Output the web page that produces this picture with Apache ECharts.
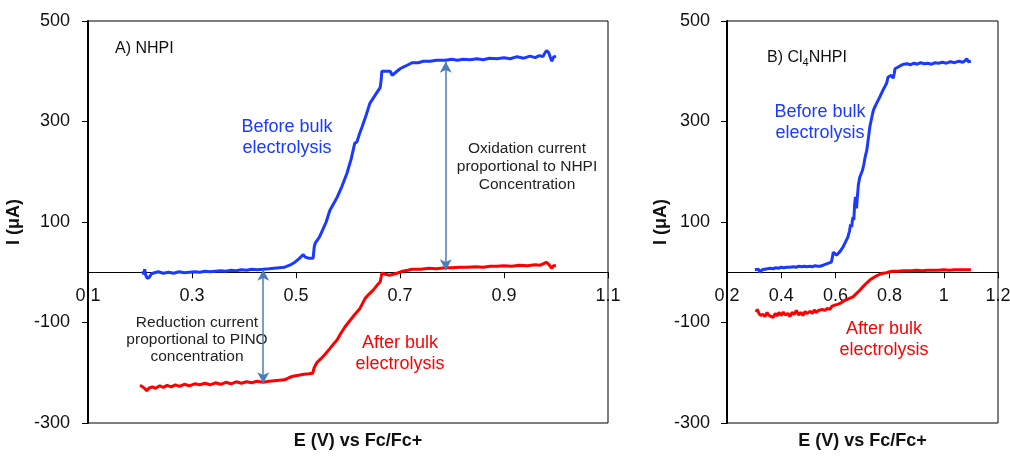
<!DOCTYPE html>
<html lang="en">
<head>
    <meta charset="UTF-8">
    <title>NHPI voltammetry</title>
    <script src="https://cdn.jsdelivr.net/npm/echarts@6/dist/echarts.min.js"></script>
    <style>
        body { margin: 0; background: #fff; }
    </style>
</head>
<body>
    <div id="main" style="width: 1010px;height:456px;"></div>
    <script type="text/javascript">

        // panel A (NHPI): [E (V), I (uA)]
        var nhpiBefore = [
            [0.205, 2], [0.207, -4], [0.209, 6], [0.211, -6], [0.214, -12], [0.218, -10], [0.222, -3],
            [0.228, -1], [0.235, 1], [0.245, -2], [0.255, 0], [0.265, -2], [0.275, 1], [0.285, -1],
            [0.295, 0], [0.305, 1], [0.315, 0], [0.325, 2], [0.335, 1], [0.345, 2], [0.355, 3],
            [0.365, 2], [0.375, 4], [0.385, 3], [0.395, 5], [0.405, 4], [0.415, 6], [0.425, 5],
            [0.437, 6], [0.448, 7], [0.458, 8], [0.468, 9], [0.478, 10], [0.488, 14], [0.498, 20],
            [0.506, 27], [0.514, 35], [0.518, 30], [0.524, 28], [0.533, 28], [0.535, 50], [0.537, 58],
            [0.545, 70], [0.552, 86], [0.558, 100], [0.565, 123], [0.572, 136], [0.579, 149],
            [0.588, 170], [0.598, 197], [0.606, 225], [0.613, 257], [0.617, 259], [0.622, 275],
            [0.627, 289], [0.635, 313], [0.642, 336], [0.652, 352], [0.662, 368], [0.664, 385],
            [0.665, 400], [0.673, 400], [0.681, 400], [0.685, 392], [0.692, 398], [0.7, 405],
            [0.71, 410], [0.723, 417], [0.735, 417], [0.745, 420], [0.758, 420], [0.77, 422],
            [0.787, 422], [0.8, 424], [0.81, 422], [0.822, 424], [0.835, 423], [0.848, 425],
            [0.86, 423], [0.872, 426], [0.886, 425], [0.9, 427], [0.912, 425], [0.925, 429],
            [0.938, 426], [0.95, 430], [0.96, 427], [0.968, 431], [0.975, 429], [0.979, 437],
            [0.982, 441], [0.986, 437], [0.989, 428], [0.992, 420], [0.995, 428], [1.0, 430]
        ];
        var nhpiAfter = [
            [0.2, -225], [0.205, -228], [0.21, -232], [0.213, -236], [0.218, -230], [0.224, -228],
            [0.23, -231], [0.238, -226], [0.245, -229], [0.252, -225], [0.26, -228], [0.268, -224],
            [0.276, -227], [0.285, -223], [0.295, -226], [0.305, -222], [0.315, -224], [0.325, -221],
            [0.335, -224], [0.345, -220], [0.355, -223], [0.365, -219], [0.375, -222], [0.385, -218],
            [0.395, -221], [0.405, -218], [0.415, -220], [0.425, -217], [0.437, -219], [0.448, -217],
            [0.458, -216], [0.468, -215], [0.478, -214], [0.486, -210], [0.494, -207], [0.505, -205],
            [0.515, -203], [0.525, -202], [0.532, -201], [0.535, -190], [0.54, -180], [0.548, -172],
            [0.556, -163], [0.565, -152], [0.572, -143], [0.579, -135], [0.586, -122], [0.594, -109],
            [0.603, -97], [0.613, -84], [0.623, -72], [0.628, -62], [0.633, -52], [0.64, -44],
            [0.648, -36], [0.655, -27], [0.662, -19], [0.664, -8], [0.665, -2], [0.672, -4],
            [0.68, -6], [0.687, -4], [0.694, -2], [0.705, 2], [0.715, 4], [0.723, 6], [0.74, 6],
            [0.755, 8], [0.77, 7], [0.787, 9], [0.8, 9], [0.815, 10], [0.83, 10], [0.845, 11],
            [0.86, 10], [0.873, 12], [0.886, 12], [0.9, 13], [0.915, 12], [0.93, 14], [0.945, 13],
            [0.96, 15], [0.97, 14], [0.976, 17], [0.981, 20], [0.985, 17], [0.989, 12], [0.992, 8],
            [0.995, 13], [1.0, 13]
        ];

        // panel B (Cl4NHPI)
        var clBefore = [
            [0.303, 5], [0.31, 3], [0.316, 6], [0.322, 0], [0.33, 5], [0.34, 6], [0.35, 7], [0.36, 8],
            [0.37, 7], [0.38, 9], [0.39, 8], [0.4, 10], [0.41, 9], [0.42, 10], [0.432, 10], [0.445, 11],
            [0.455, 10], [0.465, 12], [0.475, 11], [0.485, 12], [0.495, 11], [0.505, 12], [0.515, 11],
            [0.525, 13], [0.535, 12], [0.543, 12], [0.555, 14], [0.565, 16], [0.575, 18], [0.585, 20],
            [0.589, 30], [0.592, 40], [0.598, 38], [0.604, 34], [0.61, 34], [0.618, 42], [0.628, 50],
            [0.637, 60], [0.646, 70], [0.652, 82], [0.656, 95], [0.66, 90], [0.662, 100], [0.665, 110],
            [0.668, 104], [0.671, 135], [0.674, 150], [0.676, 140], [0.678, 127], [0.681, 150],
            [0.685, 175], [0.69, 189], [0.695, 196], [0.7, 203], [0.705, 215], [0.71, 230],
            [0.716, 243], [0.722, 268], [0.727, 289], [0.733, 305], [0.74, 322], [0.75, 334],
            [0.764, 349], [0.776, 363], [0.789, 376], [0.794, 388], [0.8, 390], [0.806, 392],
            [0.813, 386], [0.817, 395], [0.82, 405], [0.83, 408], [0.84, 411], [0.852, 414],
            [0.864, 415], [0.878, 413], [0.89, 416], [0.902, 414], [0.915, 417], [0.928, 415],
            [0.94, 416], [0.955, 414], [0.968, 417], [0.98, 416], [0.995, 418], [1.01, 416],
            [1.025, 419], [1.04, 417], [1.055, 420], [1.07, 418], [1.078, 421], [1.085, 425],
            [1.09, 419], [1.095, 422], [1.1, 420]
        ];
        var clAfter = [
            [0.307, -79], [0.312, -74], [0.318, -82], [0.325, -86], [0.333, -84], [0.34, -88],
            [0.348, -80], [0.355, -86], [0.362, -83], [0.37, -90], [0.378, -82], [0.385, -87],
            [0.392, -80], [0.4, -86], [0.408, -79], [0.415, -85], [0.424, -82], [0.432, -88],
            [0.44, -80], [0.448, -84], [0.456, -76], [0.464, -85], [0.472, -80], [0.48, -86],
            [0.488, -78], [0.494, -82], [0.5, -84], [0.508, -78], [0.515, -82], [0.522, -75],
            [0.53, -80], [0.537, -76], [0.543, -78], [0.552, -74], [0.56, -76], [0.57, -72],
            [0.58, -74], [0.586, -68], [0.592, -70], [0.6, -65], [0.608, -64], [0.617, -62],
            [0.628, -58], [0.64, -55], [0.652, -52], [0.665, -49], [0.678, -42], [0.69, -36],
            [0.703, -28], [0.716, -21], [0.728, -15], [0.74, -11], [0.752, -7], [0.764, -4],
            [0.776, -2], [0.789, -1], [0.8, 1], [0.813, 2], [0.83, 2], [0.85, 3], [0.864, 3],
            [0.88, 3], [0.9, 4], [0.92, 3], [0.94, 4], [0.96, 4], [0.98, 4], [1.0, 5], [1.02, 4],
            [1.04, 5], [1.06, 5], [1.08, 5], [1.1, 5]
        ];

        // double arrows in panel A
        var oxArrow = [[0.788, 419], [0.788, 4]];
        var redArrow = [[0.437, 5], [0.437, -221]];

        var yMin = -300, yMax = 500;
        var yTicks = [-300, -100, 100, 300, 500];
        var xTicksA = [0.1, 0.3, 0.5, 0.7, 0.9, 1.1];
        var xTicksB = [0.2, 0.4, 0.6, 0.8, 1, 1.2];

        var blue = '#1a3aff';
        var red = '#ff0000';
        var ink = '#111';
        var gridTop = 21, gridHeight = 402;
        // x axis sits on I = 0: lift it from the grid bottom by the scale
        var zeroLift = -gridHeight * (0 - yMin) / (yMax - yMin);

        var chartDom = document.getElementById('main');
        var myChart = echarts.init(chartDom);
        var option;

        function xAxisFor(idx, min, max, ticks, pad) {
            return {
                type: 'value', gridIndex: idx, min: min, max: max, offset: zeroLift,
                name: 'E (V) vs Fc/Fc+', nameLocation: 'middle', nameGap: 160,
                nameTextStyle: { fontWeight: 'bold', fontSize: 18, color: ink, padding: pad },
                axisLine: { onZero: false, lineStyle: { color: '#000', width: 1.2 } },
                axisTick: { show: true, length: 6, customValues: ticks, lineStyle: { color: '#000' } },
                axisLabel: { customValues: ticks, fontSize: 18, color: ink, margin: 15 },
                splitLine: { show: false }
            };
        }
        function yAxisFor(idx, gap, margin) {
            return {
                type: 'value', gridIndex: idx, min: yMin, max: yMax,
                name: 'I (μA)', nameLocation: 'middle', nameGap: gap,
                nameTextStyle: { fontWeight: 'bold', fontSize: 18, color: ink },
                axisLine: { show: true, onZero: false, lineStyle: { color: '#000', width: 2 } },
                axisTick: { show: true, length: 6, customValues: yTicks, lineStyle: { color: '#000' } },
                axisLabel: { customValues: yTicks, fontSize: 18, color: ink, margin: margin },
                splitLine: { show: false }
            };
        }
        function curve(name, data, idx, color) {
            return {
                name: name, type: 'line', data: data, xAxisIndex: idx, yAxisIndex: idx,
                showSymbol: false, symbol: 'none', silent: true,
                lineStyle: { color: color, width: 3 }
            };
        }
        function label(x, y, text, color, size, lh) {
            return {
                type: 'text', x: x, y: y,
                style: {
                    text: text, fill: color, fontSize: size, fontFamily: 'Liberation Sans',
                    align: 'center', verticalAlign: 'middle', lineHeight: lh
                }
            };
        }

        var arrows = curve('arrows', [], 0, blue);
        arrows.markLine = {
            silent: true,
            symbol: ['arrow', 'arrow'],
            symbolSize: [9, 11],
            label: { show: false },
            lineStyle: { color: '#4a7ebb', width: 1.5, type: 'solid' },
            data: [
                [{ coord: oxArrow[0] }, { coord: oxArrow[1] }],
                [{ coord: redArrow[0] }, { coord: redArrow[1] }]
            ]
        };

        option = {
            animation: false,
            textStyle: { fontFamily: 'Liberation Sans' },
            grid: [
                { left: 88, top: gridTop, width: 520, height: gridHeight, outerBoundsMode: 'none', containLabel: false,
                  show: true, borderColor: '#000', borderWidth: 1 },
                { left: 727, top: gridTop, width: 271, height: gridHeight, outerBoundsMode: 'none', containLabel: false,
                  show: true, borderColor: '#000', borderWidth: 1 }
            ],
            xAxis: [
                xAxisFor(0, 0.1, 1.1, xTicksA, [0, 0, 0, 20]),
                xAxisFor(1, 0.2, 1.2, xTicksB, 0)
            ],
            yAxis: [
                yAxisFor(0, 53, 18),
                yAxisFor(1, 38, 17)
            ],
            series: [
                curve('NHPI before', nhpiBefore, 0, blue),
                curve('NHPI after', nhpiAfter, 0, red),
                curve('Cl4NHPI before', clBefore, 1, blue),
                curve('Cl4NHPI after', clAfter, 1, red),
                arrows
            ],
            graphic: [
                {
                    type: 'text', x: 115, y: 49,
                    style: {
                        text: 'A) NHPI', fill: ink, fontSize: 16, fontFamily: 'Liberation Sans',
                        align: 'left', verticalAlign: 'middle'
                    }
                },
                {
                    type: 'text', x: 767, y: 58,
                    style: {
                        text: '{a|B) Cl}{s|4}{a|NHPI}', fill: ink, fontFamily: 'Liberation Sans',
                        align: 'left', verticalAlign: 'middle',
                        rich: {
                            a: { fontSize: 16, fill: ink, lineHeight: 20 },
                            s: { fontSize: 11, fill: ink, verticalAlign: 'bottom', lineHeight: 20 }
                        }
                    }
                },
                label(287, 137.5, 'Before bulk\nelectrolysis', blue, 18, 21),
                label(400, 353.5, 'After bulk\nelectrolysis', red, 18, 21),
                label(527, 167, 'Oxidation current\nproportional to NHPI\nConcentration', '#222', 15.5, 18),
                label(197, 340, 'Reduction current\nproportional to PINO\nconcentration', '#222', 15.5, 17),
                label(820, 123, 'Before bulk\nelectrolysis', blue, 18, 21),
                label(884, 340, 'After bulk\nelectrolysis', red, 18, 21)
            ]
        };

        option && myChart.setOption(option);

    </script>
</body>
</html>
